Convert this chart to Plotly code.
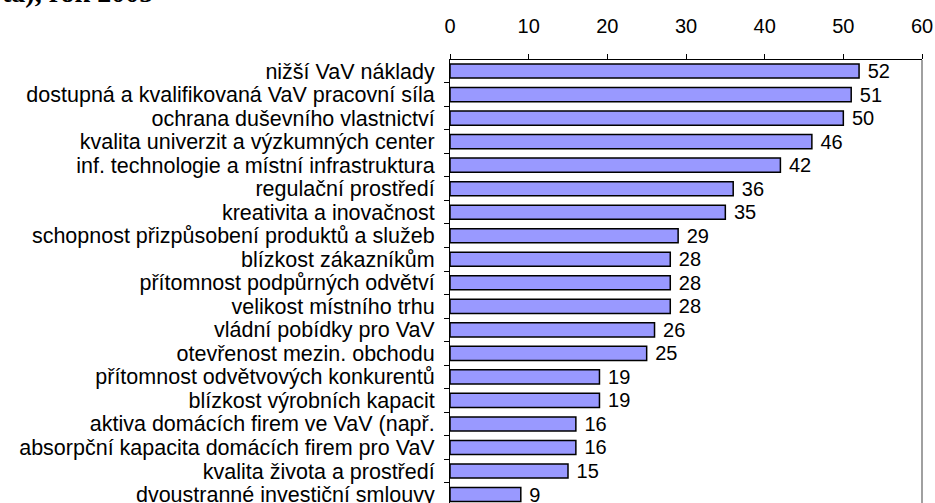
import plotly.graph_objects as go

categories = [
    "nižší VaV náklady",
    "dostupná a kvalifikovaná VaV pracovní síla",
    "ochrana duševního vlastnictví",
    "kvalita univerzit a výzkumných center",
    "inf. technologie a místní infrastruktura",
    "regulační prostředí",
    "kreativita a inovačnost",
    "schopnost přizpůsobení produktů a služeb",
    "blízkost zákazníkům",
    "přítomnost podpůrných odvětví",
    "velikost místního trhu",
    "vládní pobídky pro VaV",
    "otevřenost mezin. obchodu",
    "přítomnost odvětvových konkurentů",
    "blízkost výrobních kapacit",
    "aktiva domácích firem ve VaV (např.",
    "absorpční kapacita domácích firem pro VaV",
    "kvalita života a prostředí",
    "dvoustranné investiční smlouvy",
]
values = [52, 51, 50, 46, 42, 36, 35, 29, 28, 28, 28, 26, 25, 19, 19, 16, 16, 15, 9]
x_ticks = [0, 10, 20, 30, 40, 50, 60]

W, H = 935, 503
ML, MR, MT, MB = 450, 13, 60, 0
FONT = "Liberation Sans, Arial, sans-serif"

fig = go.Figure(go.Bar(
    y=categories,
    x=values,
    orientation="h",
    marker=dict(color="#9999FF", line=dict(color="black", width=1.5)),
    text=[f" {v}" for v in values],
    textposition="outside",
    constraintext="none",
    cliponaxis=False,
    textfont=dict(family=FONT, size=20, color="black"),
    width=0.6,
))

fig.update_layout(
    width=W, height=H,
    margin=dict(l=ML, r=MR, t=MT, b=MB, pad=0, autoexpand=False),
    paper_bgcolor="white",
    plot_bgcolor="white",
    showlegend=False,
    font=dict(family=FONT, size=20, color="black"),
    xaxis=dict(
        side="top", range=[0, 60], tickmode="array", tickvals=x_ticks, automargin=False,
        showgrid=False, zeroline=False,
        showline=True, linecolor="black", linewidth=1,
        ticks="outside", ticklen=5, tickcolor="black", ticklabelstandoff=13,
        tickfont=dict(family=FONT, size=20, color="black"),
    ),
    yaxis=dict(
        autorange=False, range=[18.36, -0.47], automargin=False,
        tickmode="array", tickvals=categories, ticktext=categories,
        showgrid=False, zeroline=False,
        showline=True, linecolor="black", linewidth=1,
        ticks="outside", ticklen=5, tickcolor="black", tickson="boundaries",
        ticklabelstandoff=10,
        tickfont=dict(family=FONT, size=21.5, color="black"),
    ),
    shapes=[dict(type="line", xref="paper", yref="paper", x0=1, x1=1, y0=0, y1=1,
                 line=dict(color="#808080", width=1.5))],
    annotations=[dict(
        text="<b>ta), rok 2005</b>", xref="paper", yref="paper",
        x=-ML / (W - ML - MR), y=(H + 8) / (H - MT - MB),
        xanchor="left", yanchor="middle", showarrow=False,
        font=dict(family="Liberation Serif, Times New Roman, serif", size=28, color="black"),
    )],
)

fig.write_html("out.html", config={"displayModeBar": False},
               post_script="document.body.style.margin='0';")
